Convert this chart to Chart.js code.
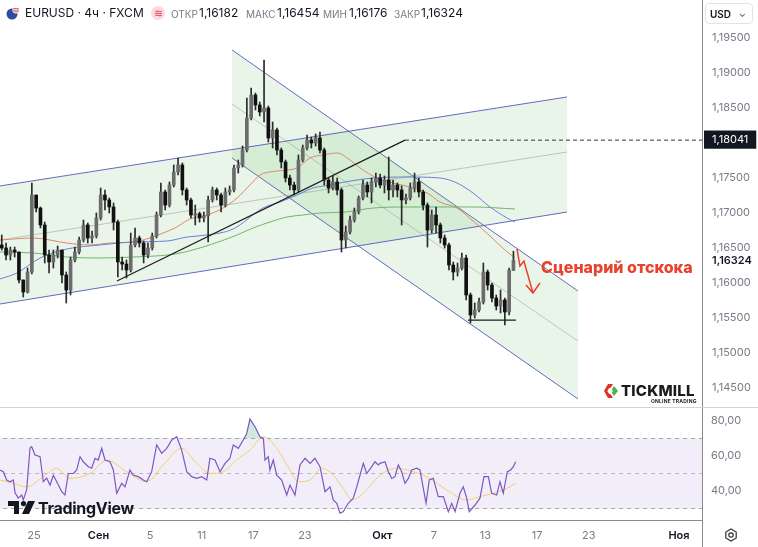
<!DOCTYPE html>
<html>
<head>
<meta charset="utf-8">
<script src="https://cdn.jsdelivr.net/npm/chart.js@4.4.1/dist/chart.umd.min.js"></script>
<style>
  body { margin: 0; background: #fff; font-family: Inter, 'Noto Sans', sans-serif; }
  #wrap { position: relative; width: 758px; height: 547px; overflow: hidden; background: #fff; }
  #priceBox { position: absolute; left: 0; top: 0; width: 758px; height: 407px; }
  #rsiBox { position: absolute; left: 0; top: 408px; width: 758px; height: 139px; }
  .sep { position: absolute; background: #d4d4d4; }
  .hd { position: absolute; top: 5px; line-height: 16px; white-space: nowrap; color: #131722; }
  .sym { font-size: 12px; }
  .lbl { font-size: 10px; color: #787b86; }
  .val { font-size: 12px; }
  .badge { position: absolute; left: 151px; top: 6px; width: 14px; height: 14px; border-radius: 7px;
           background: #fbd9df; color: #e0405a; font-size: 11px; line-height: 14px; text-align: center; }
  #usd { position: absolute; left: 705px; top: 3px; width: 48px; height: 21px; border: 1px solid #e3e3e3;
         border-radius: 4px; font-size: 10px; font-weight: 600; color: #131722; line-height: 21px; box-sizing: border-box; padding-left: 4px; }
  #usd span { position: absolute; right: 6px; top: -1px; font-size: 9px; color: #555; }
  #scenario { position: absolute; left: 541px; top: 257px; color: #e8412c; font-weight: 800; font-size: 16px; white-space: nowrap; }
  #tvText { position: absolute; left: 38px; top: 498px; font-size: 16px; font-weight: 700; color: #131722; letter-spacing: -0.3px; }
  #tmText { position: absolute; left: 621px; top: 381px; font-size: 15px; font-weight: 800; color: #1b1b1b; letter-spacing: 0.2px; }
  #tmSub { position: absolute; left: 651px; top: 398px; font-size: 5px; font-weight: 700; color: #1b1b1b; letter-spacing: 0.2px; }
</style>
</head>
<body>
<div id="wrap">
  <div id="priceBox"><canvas id="priceChart" width="758" height="407"></canvas></div>
  <div class="sep" style="left:0;top:407px;width:758px;height:1px;"></div>
  <div id="rsiBox"><canvas id="rsiChart" width="758" height="139"></canvas></div>
  <div class="sep" style="left:702px;top:520px;width:1px;height:27px;background:#8a8a8a;"></div>

  <svg style="position:absolute;left:6px;top:6px" width="14" height="14" viewBox="0 0 14 14">
    <circle cx="6" cy="8" r="5.5" fill="#2b4f9e"/>
    <circle cx="10" cy="4" r="3.6" fill="#fff"/>
    <path d="M7.2 2.6h5.6M6.8 4.2h6.2M7.2 5.8h5.6" stroke="#d23c3c" stroke-width="0.8"/>
  </svg>
  <div class="hd sym" style="left:25px">EURUSD · 4ч · FXCM</div>
  <div class="badge">≋</div>
  <div class="hd lbl" style="left:171px;top:6px">ОТКР</div>
  <div class="hd val" style="left:199px">1,16182</div>
  <div class="hd lbl" style="left:246px;top:6px">МАКС</div>
  <div class="hd val" style="left:277px">1,16454</div>
  <div class="hd lbl" style="left:323px;top:6px">МИН</div>
  <div class="hd val" style="left:349px">1,16176</div>
  <div class="hd lbl" style="left:394px;top:6px">ЗАКР</div>
  <div class="hd val" style="left:421px">1,16324</div>
  <div id="usd">USD<span>⌄</span></div>

  <div id="scenario">Сценарий отскока</div>

  <svg style="position:absolute;left:603px;top:383px" width="16" height="16" viewBox="0 0 16 16">
    <path d="M5 1h5L7.5 5H6.2L4.3 8l1.9 3h1.3L10 15H5L1 8z" fill="#e0302a"/>
    <path d="M11 3l4 5-4 5-2.3-3.4L10 8 8.7 6.4z" fill="#4cb648"/>
  </svg>
  <div id="tmText">TICKMILL</div>
  <div id="tmSub">ONLINE TRADING</div>

  <svg style="position:absolute;left:8px;top:501px" width="27" height="13" viewBox="0 0 27 13">
    <path d="M0 0h11v13H6V5H0z" fill="#131722"/>
    <circle cx="15.5" cy="2.6" r="2.6" fill="#131722"/>
    <path d="M20 0h7l-6 13h-7z" fill="#131722"/>
  </svg>
  <div id="tvText">TradingView</div>

  <svg style="position:absolute;left:724px;top:528px" width="14" height="14" viewBox="0 0 14 14">
    <path d="M7 1l5.2 3v6L7 13 1.8 10V4z" fill="none" stroke="#333" stroke-width="1.2"/>
    <circle cx="7" cy="7" r="2.2" fill="none" stroke="#333" stroke-width="1.2"/>
  </svg>
</div>

<script>
// 8h bars, three per trading day; day 0 = 25 Aug
const firstBarDay = -3;
const barsPerDay = 3;
const firstOpen = 1.16614;

const closes = [
  1.16543, 1.16500, 1.16400, 1.16471, 1.16443, 1.16043, 1.15871, 1.16157, 1.17257, 1.17071,
  1.16829, 1.16400, 1.16300, 1.16400, 1.16471, 1.16114, 1.15900, 1.16329, 1.16443, 1.16614,
  1.16829, 1.16643, 1.16671, 1.16929, 1.17257, 1.17186, 1.17086, 1.16871, 1.16300, 1.16271,
  1.16186, 1.16543, 1.16643, 1.16571, 1.16400, 1.16500, 1.16671, 1.16971, 1.17300, 1.17114,
  1.17400, 1.17586, 1.17686, 1.17329, 1.17186, 1.16971, 1.16990, 1.16929, 1.16957, 1.17186,
  1.17329, 1.17257, 1.17114, 1.17300, 1.17329, 1.17643, 1.17686, 1.17900, 1.18357, 1.18686,
  1.18543, 1.18443, 1.18500, 1.18071, 1.18186, 1.17900, 1.17729, 1.17500, 1.17400, 1.17329,
  1.17757, 1.17929, 1.18043, 1.18000, 1.18071, 1.17900, 1.17471, 1.17357, 1.17443, 1.17329,
  1.16614, 1.16729, 1.16900, 1.17014, 1.17214, 1.17400, 1.17300, 1.17443, 1.17500, 1.17400,
  1.17471, 1.17329, 1.17400, 1.17329, 1.17186, 1.17214, 1.17357, 1.17443, 1.17300, 1.17114,
  1.16757, 1.16971, 1.16829, 1.16643, 1.16543, 1.16257, 1.16157, 1.16214, 1.16357, 1.15829,
  1.15543, 1.15614, 1.15729, 1.16157, 1.15971, 1.15786, 1.15671, 1.15757, 1.15586, 1.16182,
  1.16324
];
const highs = [
  1.16657, 1.16686, 1.16571, 1.16514, 1.16514, 1.16443, 1.16043, 1.16214, 1.17429, 1.17257,
  1.17086, 1.16871, 1.16471, 1.16471, 1.16529, 1.16471, 1.16157, 1.16371, 1.16514, 1.16657,
  1.16900, 1.16857, 1.16743, 1.17000, 1.17357, 1.17329, 1.17214, 1.17143, 1.16900, 1.16371,
  1.16329, 1.16714, 1.16786, 1.16671, 1.16600, 1.16571, 1.16714, 1.17014, 1.17429, 1.17329,
  1.17443, 1.17686, 1.17786, 1.17714, 1.17357, 1.17214, 1.17114, 1.17014, 1.17014, 1.17243,
  1.17371, 1.17357, 1.17286, 1.17357, 1.17386, 1.17686, 1.17757, 1.17957, 1.18643, 1.18786,
  1.18714, 1.18586, 1.19186, 1.18529, 1.18300, 1.18214, 1.17929, 1.17757, 1.17543, 1.17443,
  1.17829, 1.17971, 1.18114, 1.18086, 1.18129, 1.18157, 1.17929, 1.17500, 1.17529, 1.17500,
  1.17357, 1.16814, 1.16957, 1.17071, 1.17243, 1.17471, 1.17443, 1.17500, 1.17571, 1.17557,
  1.17529, 1.17800, 1.17471, 1.17429, 1.17386, 1.17271, 1.17429, 1.17571, 1.17500, 1.17329,
  1.17143, 1.17043, 1.17086, 1.16857, 1.16686, 1.16571, 1.16300, 1.16286, 1.16429, 1.16400,
  1.15857, 1.15714, 1.15786, 1.16286, 1.16186, 1.16000, 1.15829, 1.15900, 1.15786, 1.16214,
  1.16454
];
const lows = [
  1.16471, 1.16471, 1.16329, 1.16329, 1.16371, 1.16000, 1.15800, 1.15857, 1.16129, 1.17014,
  1.16786, 1.16286, 1.16143, 1.16214, 1.16357, 1.16000, 1.15714, 1.15829, 1.16300, 1.16414,
  1.16586, 1.16571, 1.16571, 1.16643, 1.16900, 1.17043, 1.17000, 1.16757, 1.16086, 1.16186,
  1.16071, 1.16157, 1.16514, 1.16514, 1.16286, 1.16357, 1.16471, 1.16643, 1.16943, 1.17043,
  1.17086, 1.17371, 1.17543, 1.17257, 1.17114, 1.16929, 1.16829, 1.16871, 1.16871, 1.16586,
  1.17157, 1.17186, 1.17014, 1.17086, 1.17257, 1.17300, 1.17571, 1.17657, 1.17871, 1.18329,
  1.18471, 1.18386, 1.18300, 1.18014, 1.17929, 1.17829, 1.17643, 1.17443, 1.17329, 1.17257,
  1.17300, 1.17729, 1.17900, 1.17929, 1.17957, 1.17857, 1.17400, 1.17286, 1.17329, 1.17257,
  1.16443, 1.16500, 1.16700, 1.16871, 1.16986, 1.17186, 1.17229, 1.17143, 1.17371, 1.17357,
  1.17286, 1.17186, 1.17229, 1.17229, 1.16829, 1.17129, 1.17186, 1.17300, 1.17229, 1.17043,
  1.16514, 1.16714, 1.16714, 1.16571, 1.16500, 1.16186, 1.16043, 1.16100, 1.16186, 1.15757,
  1.15429, 1.15500, 1.15586, 1.15700, 1.15900, 1.15729, 1.15614, 1.15571, 1.15400, 1.15543,
  1.16176
];

// moving averages, [trading day, price]
const maOrange = [[-2.64,1.16614],[-0.08,1.16643],[2.56,1.16571],[4.34,1.16543],[5.89,1.16571],[7.67,1.16586],
  [8.99,1.16643],[10.0,1.16714],[10.93,1.16786],[12.09,1.16914],[13.41,1.16971],[14.65,1.17071],[15.74,1.17214],
  [16.74,1.17400],[17.52,1.17543],[18.29,1.17586],[19.61,1.17614],[20.39,1.17643],[21.40,1.17786],[22.40,1.17829],
  [23.49,1.17857],[24.50,1.17757],[25.27,1.17643],[26.59,1.17500],[27.83,1.17429],[29.15,1.17371],[30.47,1.17286],
  [31.47,1.17157],[32.79,1.17071],[34.03,1.16886],[35.35,1.16671],[36.51,1.16471],[37.29,1.16357]];
const maBlue = [[-2.64,1.16057],[-1.32,1.16143],[0.47,1.16357],[2.56,1.16486],[5.12,1.16543],[7.67,1.16586],
  [10.31,1.16600],[11.86,1.16657],[13.41,1.16686],[15.43,1.16771],[17.75,1.17071],[19.07,1.17157],[20.39,1.17257],
  [21.63,1.17357],[22.95,1.17400],[24.11,1.17443],[26.28,1.17500],[28.91,1.17514],[31.47,1.17500],[32.79,1.17429],
  [34.03,1.17286],[35.35,1.17086],[36.67,1.16929],[37.29,1.16871]];
const maGreen = [[-2.64,1.16443],[-0.08,1.16429],[2.56,1.16371],[5.12,1.16357],[7.67,1.16371],[10.93,1.16414],
  [13.10,1.16514],[15.74,1.16686],[16.98,1.16786],[18.29,1.16871],[19.61,1.16943],[20.85,1.16971],[22.17,1.17000],
  [24.11,1.17014],[26.28,1.17071],[28.91,1.17086],[31.47,1.17086],[34.03,1.17086],[37.29,1.17057]];

// drawings
const ascUpper = [[-2.64,1.17386],[41.32,1.18657]];
const ascLower = [[-2.64,1.15700],[41.32,1.17014]];
const ascMid = [[-2.64,1.16614],[41.32,1.17871]];
const descUpper = [[15.35,1.19329],[42.17,1.15886]];
const descLower = [[15.35,1.17786],[42.17,1.14343]];
const descMid = [[15.35,1.18557],[42.17,1.15171]];
const trendLine = [[6.43,1.16029],[28.76,1.18041]];
const levelPrice = 1.18041;
const levelStart = 28.76;
const supportLine = [[33.64,1.15471],[37.36,1.15471]];
const scenarioPath = [[37.44,1.16486],[37.67,1.16243],[37.98,1.16314],[38.68,1.15857]];
const arrowHead = [[38.14,1.15971],[38.68,1.15857],[39.22,1.16000]];

// RSI, [trading day, value]
const rsi = [[-2.64,52],[-2.38,51],[-2.12,46.3],[-1.86,45.3],[-1.60,46.3],[-1.47,39],[-1.22,36],[-0.95,37.7],
  [-0.83,34.9],[-0.57,40.6],[-0.31,64.6],[-0.18,65.3],[0.08,60.6],[0.47,59.6],[0.72,45.3],[0.98,47.4],[1.24,43.4],
  [1.50,49],[1.76,45.3],[2.15,39.6],[2.40,37.7],[2.66,50],[3.05,50],[3.31,52],[3.57,59.6],[3.82,56.7],[4.21,53.9],
  [4.47,53],[4.73,58.7],[4.98,57.7],[5.25,64.4],[5.50,57.7],[5.89,56.7],[6.15,52],[6.41,38.7],[6.80,44.4],[7.05,42.4],
  [7.44,52],[7.70,49],[8.09,48.2],[8.47,46.3],[8.74,45.3],[9.12,51],[9.51,66.3],[9.90,61.5],[10.29,64.4],[10.67,69.1],
  [11.06,71],[11.45,63.4],[11.84,51],[12.22,48.2],[12.61,47.2],[13.00,48.2],[13.39,46.3],[13.64,58.7],[14.03,57.7],
  [14.42,51],[14.81,55.8],[15.19,58.7],[15.45,66.3],[15.84,64.4],[16.22,69.1],[16.49,72.9],[16.74,81.1],[17.13,76.7],
  [17.52,71],[17.78,70],[17.91,57.7],[18.16,59.6],[18.29,52],[18.55,57.7],[18.81,49],[19.20,46.3],[19.59,37.7],
  [19.84,43.4],[20.23,37.7],[20.62,54.9],[21.01,58.7],[21.40,55.8],[21.78,58.7],[22.17,53.9],[22.56,39.6],[22.95,42.4],
  [23.20,34.9],[23.47,33],[23.72,27.3],[23.98,28.2],[24.36,33],[24.75,35.9],[25.02,42.4],[25.27,49],[25.53,55.8],
  [25.79,50],[26.18,53.9],[26.43,56.7],[26.69,54.9],[26.82,55.8],[27.21,56.7],[27.47,51],[27.73,47.2],[27.98,48.2],
  [28.24,54.9],[28.50,51],[28.76,44.4],[29.02,47.2],[29.28,52],[29.67,53],[29.92,52],[30.18,41.5],[30.39,33],
  [30.64,46.3],[30.95,47.2],[31.34,36.8],[31.73,36.8],[32.12,28.2],[32.38,33],[32.64,28.2],[33.02,38.7],[33.28,42.4],
  [33.54,35.9],[33.74,28.2],[34.19,32],[34.57,35.9],[34.88,48.2],[35.22,48.2],[35.48,38.7],[35.87,37.7],[36.12,45.3],
  [36.38,38.7],[36.69,51],[36.95,52],[37.16,53.9],[37.34,56.7]];
const rsiMa = [[-2.64,46.3],[-1.60,44.4],[-0.57,42.4],[0.72,48.2],[1.76,53],[2.79,47.2],[4.34,50],[5.64,57.7],
  [7.19,51],[8.74,45.3],[10.02,54.9],[11.45,64.4],[12.61,55.8],[13.64,50],[14.67,51],[15.71,57.7],[16.74,63.4],
  [17.78,71],[18.81,64.4],[19.84,52],[20.49,45.3],[21.40,46.3],[22.30,53],[23.20,49],[23.98,41.5],[24.63,34.9],
  [25.53,38.7],[26.82,49],[28.12,53],[29.40,51],[30.70,47.2],[31.99,40.6],[33.54,34.9],[34.57,36.8],[35.60,38.7],
  [36.64,41.5],[37.34,44.4]];

const priceTicks = [1.145, 1.15, 1.155, 1.16, 1.16324, 1.165, 1.17, 1.175, 1.18041, 1.185, 1.19, 1.195];
const rsiTicks = [40, 60, 80];
const dateTicks = [0, 5, 9, 13, 17, 21, 27, 31, 35, 39, 43, 50];
const dateLabels = ['25', 'Сен', '5', '11', '17', '23', 'Окт', '7', '13', '17', '23', 'Ноя'];
const monthLabels = ['Сен', 'Окт', 'Ноя'];

const dayMin = -2.636;
const dayMax = 51.783;
const lastPrice = 1.16324;

Chart.defaults.font.family = "Inter, 'Noto Sans', sans-serif";
Chart.defaults.animation = false;

const pts = arr => arr.map(p => ({x: p[0], y: p[1]}));
const comma = (v, d) => v.toFixed(d).replace('.', ',');
const tickVal = ctx => (ctx && ctx.tick) ? ctx.tick.value : null;
const isMonth = ctx => ctx && ctx.index !== undefined && monthLabels.includes(dateLabels[ctx.index]);

// keep the plot area edge to edge: no room reserved for the end labels
function fitSide(axis) {
    axis.width = 56;
    axis.paddingTop = 0;
    axis.paddingBottom = 0;
}

function line(data, color, extra) {
    return Object.assign({
        type: 'line', data: pts(data), borderColor: color, borderWidth: 1,
        pointRadius: 0, fill: false, tension: 0
    }, extra || {});
}

const opens = closes.map((c, i) => i === 0 ? firstOpen : closes[i - 1]);
const barX = closes.map((c, i) => firstBarDay + (i + 0.5) / barsPerDay);
const upColor = '#6c6c6c';
const downColor = '#111';
const bodyColors = closes.map((c, i) => c >= opens[i] ? upColor : downColor);

const channelLine = 'rgba(88,88,186,0.9)';
const channelFill = 'rgba(76,175,80,0.13)';
const midLine = 'rgba(140,140,140,0.45)';

new Chart(document.getElementById('priceChart'), {
    type: 'line',
    data: {
        datasets: [
            line(ascLower, channelLine, {order: 10}),
            line(ascUpper, channelLine, {order: 10, fill: '-1', backgroundColor: channelFill}),
            line(descLower, channelLine, {order: 10}),
            line(descUpper, channelLine, {order: 10, fill: '-1', backgroundColor: channelFill}),
            line(ascMid, midLine, {order: 9}),
            line(descMid, midLine, {order: 9}),
            line(maGreen, '#72b56c', {order: 8, cubicInterpolationMode: 'monotone'}),
            line(maBlue, '#6a80d6', {order: 8, cubicInterpolationMode: 'monotone'}),
            line(maOrange, '#e0866a', {order: 8, cubicInterpolationMode: 'monotone'}),
            {
                type: 'bar', order: 6, grouped: false, barThickness: 1,
                data: closes.map((c, i) => ({x: barX[i], y: [lows[i], highs[i]]})),
                backgroundColor: '#2a2a2a'
            },
            {
                type: 'bar', order: 5, grouped: false, barThickness: 3,
                data: closes.map((c, i) => ({x: barX[i], y: [Math.min(opens[i], c), Math.max(opens[i], c)]})),
                backgroundColor: bodyColors
            },
            line(trendLine, '#1e1e1e', {order: 2, borderWidth: 1.2}),
            line([[levelStart, levelPrice], [dayMax + 1, levelPrice]], '#333', {order: 2, borderDash: [4, 3]}),
            line(supportLine, '#1e1e1e', {order: 2, borderWidth: 1.2}),
            line(scenarioPath, '#e8412c', {order: 1, borderWidth: 1.5}),
            line(arrowHead, '#e8412c', {order: 1, borderWidth: 1.5})
        ]
    },
    options: {
        responsive: false,
        layout: {padding: 0},
        plugins: {legend: {display: false}, tooltip: {enabled: false}},
        scales: {
            x: {type: 'linear', min: dayMin, max: dayMax, offset: false, display: false},
            y: {
                position: 'right', min: 1.142286, max: 1.200429,
                afterFit: fitSide,
                afterBuildTicks: axis => { axis.ticks = priceTicks.map(v => ({value: v})); },
                grid: {display: false, drawTicks: false, tickLength: 0},
                border: {display: true, color: '#8a8a8a'},
                ticks: {
                    padding: 10,
                    callback: v => comma(v, 5),
                    color: ctx => tickVal(ctx) === levelPrice ? '#fff' : (tickVal(ctx) === lastPrice ? '#131722' : '#787b86'),
                    font: ctx => ({size: 11, weight: tickVal(ctx) === lastPrice ? '600' : '400'}),
                    showLabelBackdrop: ctx => tickVal(ctx) === levelPrice,
                    backdropColor: '#131722',
                    backdropPadding: {top: 3, bottom: 2, left: 8, right: 8}
                }
            }
        }
    }
});

const levelDash = '#a3a3a3';
new Chart(document.getElementById('rsiChart'), {
    type: 'line',
    data: {
        datasets: [
            line([[dayMin - 1, 30], [dayMax + 1, 30]], levelDash, {borderDash: [4, 4]}),
            line([[dayMin - 1, 70], [dayMax + 1, 70]], levelDash, {borderDash: [4, 4], fill: '-1', backgroundColor: 'rgba(126,87,194,0.1)'}),
            line([[dayMin - 1, 50], [dayMax + 1, 50]], '#c2c2c2', {borderDash: [4, 4]}),
            line(rsi, '#7e57c2', {order: -1, borderWidth: 1.2,
                fill: {value: 70, above: 'rgba(90,190,140,0.3)', below: 'rgba(0,0,0,0)'}}),
            line(rsiMa, '#f2cf6e', {order: -1, cubicInterpolationMode: 'monotone'})
        ]
    },
    options: {
        responsive: false,
        layout: {padding: 0},
        plugins: {legend: {display: false}, tooltip: {enabled: false}},
        scales: {
            x: {
                type: 'linear', min: dayMin, max: dayMax, offset: false,
                afterFit: axis => { axis.height = 27; axis.paddingLeft = 0; axis.paddingRight = 0; },
                afterBuildTicks: axis => { axis.ticks = dateTicks.map(v => ({value: v})); },
                grid: {display: false, drawTicks: false, tickLength: 0},
                border: {display: true, color: '#8a8a8a'},
                ticks: {
                    padding: 9, autoSkip: false, maxRotation: 0,
                    callback: v => dateLabels[dateTicks.indexOf(v)],
                    color: ctx => isMonth(ctx) ? '#131722' : '#787b86',
                    font: ctx => ({size: 11, weight: isMonth(ctx) ? '600' : '400'})
                }
            },
            y: {
                position: 'right', min: 23.43, max: 87.43,
                afterFit: fitSide,
                afterBuildTicks: axis => { axis.ticks = rsiTicks.map(v => ({value: v})); },
                grid: {display: false, drawTicks: false, tickLength: 0},
                border: {display: true, color: '#8a8a8a'},
                ticks: {padding: 9, color: '#787b86', font: {size: 11}, callback: v => comma(v, 2)}
            }
        }
    }
});
</script>
</body>
</html>
